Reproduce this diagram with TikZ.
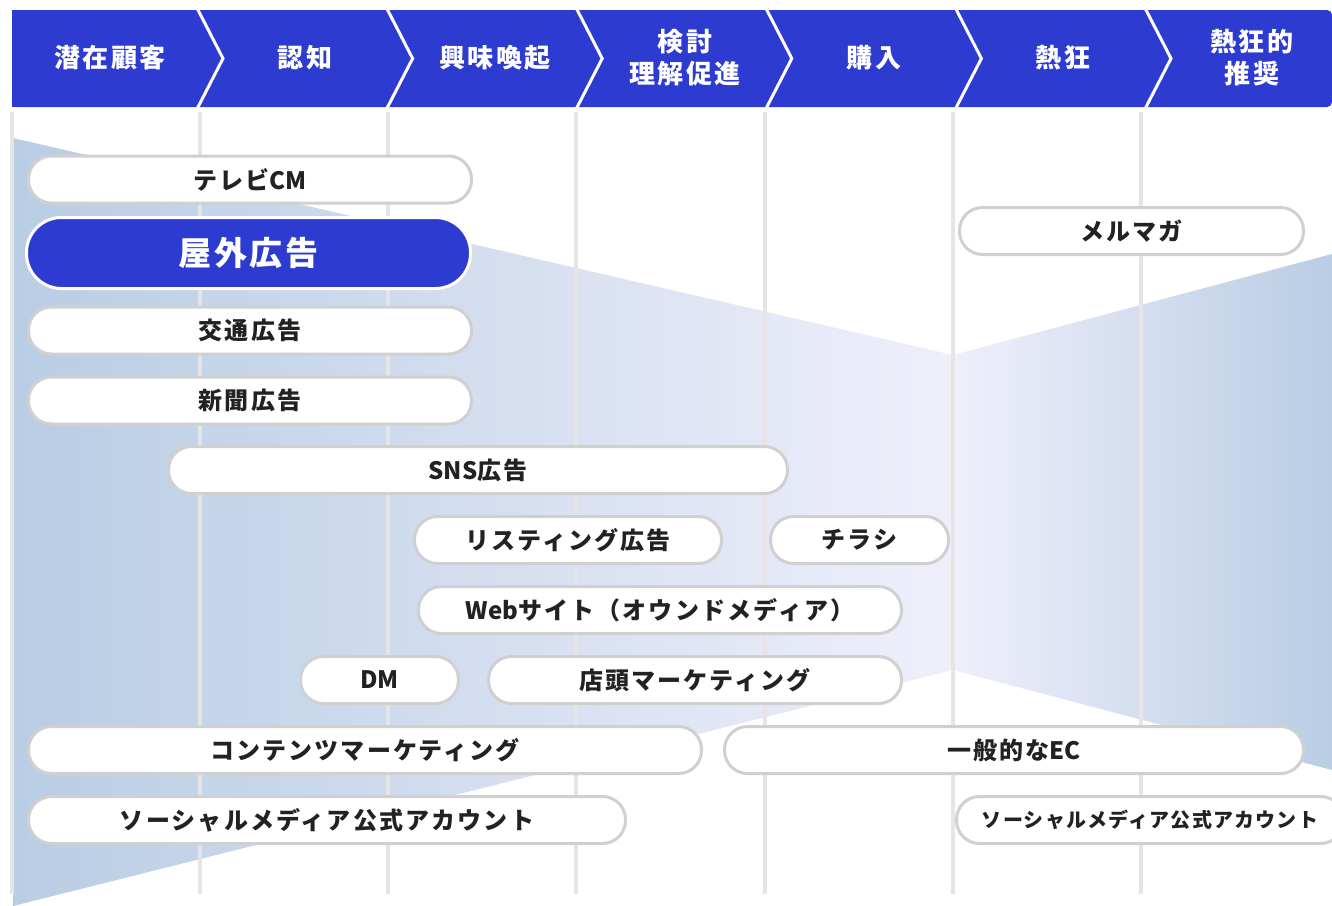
\documentclass[tikz,border=0pt]{standalone}
\usepackage{fontspec}
\setmainfont{Noto Sans CJK JP}
\definecolor{headblue}{RGB}{46,59,209}
\definecolor{pillgray}{RGB}{208,208,208}
\definecolor{inkgray}{RGB}{34,34,34}
\definecolor{gridgray}{RGB}{229,229,229}
\definecolor{funnelside}{RGB}{185,205,228}
\definecolor{funnelmid}{RGB}{239,239,251}
\tikzset{
  x=1pt, y=-1pt,
}
\newcommand{\lat}[1]{{\addfontfeature{LetterSpace=0}#1}}
\tikzstyle{gridline}=[gridgray,line width=4pt]
\tikzstyle{chevsep}=[white,line width=3pt]
\tikzstyle{stage}=[text=white,align=center,font=\bfseries\fontsize{26}{32}\selectfont\addfontfeature{LetterSpace=10}]
\tikzstyle{pill}=[draw=pillgray,fill=white,line width=3pt,rounded corners=23pt,minimum height=47pt,inner sep=0pt,text=inkgray,font=\bfseries\fontsize{24}{27}\selectfont\addfontfeature{LetterSpace=9}]
\tikzstyle{bigpill}=[draw=white,fill=headblue,line width=3pt,rounded corners=35pt,minimum height=71pt,inner sep=0pt,text=white,font=\bfseries\fontsize{33}{36}\selectfont\addfontfeature{LetterSpace=8}]

\begin{document}
\begin{tikzpicture}
    \useasboundingbox (0,0) rectangle (1332,905);
    \fill[white] (0,0) rectangle (1332,905);
    % funnel background
    \begin{scope}
      \clip (13,138) -- (953,355) -- (1332,254) -- (1332,770) -- (953,670) -- (13,906) -- cycle;
      \shade[left color=funnelside,right color=funnelmid] (13,130) rectangle (953,910);
      \shade[left color=funnelmid,right color=funnelside] (953,130) rectangle (1332,910);
    \end{scope}
    \foreach \x in {12,200,388,576,765,953,1141}
      \draw[gridline] (\x,112) -- (\x,894);
    % header
    \fill[headblue,rounded corners=5pt] (12,10) rectangle (1332,107);
    \fill[headblue] (12,10) rectangle (40,107);
    \foreach \s in {197,386.6,576.2,765.8,955.4,1145}
      \draw[chevsep] (\s,8) -- ({\s+26},58.5) -- (\s,109);
    \node[stage] (latent)   at (110,58)  {潜在顧客};
    \node[stage] (aware)    at (305,58)  {認知};
    \node[stage] (interest) at (495,58)  {興味喚起};
    \node[stage] (consider) at (685,58)  {検討\\理解促進};
    \node[stage] (purchase) at (874,58)  {購入};
    \node[stage] (fan)      at (1063,58) {熱狂};
    \node[stage] (advocate) at (1252,58) {熱狂的\\推奨};
    % media
    \node[pill,minimum width=443pt] (tvcm)      at (250,179.5) {テレビ\lat{CM}};
    \node[bigpill,minimum width=444pt] (ooh)    at (248.5,253) {屋外広告};
    \node[pill,minimum width=443pt] (transit)   at (250,330.5) {交通広告};
    \node[pill,minimum width=443pt] (newspaper) at (250,400.5) {新聞広告};
    \node[pill,minimum width=619pt] (snsad)     at (478,470)   {\lat{SNS}広告};
    \node[pill,minimum width=307pt] (listing)   at (568,540)   {リスティング広告};
    \node[pill,minimum width=178pt] (flyer)     at (859.5,540) {チラシ};
    \node[pill,minimum width=483pt] (website)   at (660,610)   {\lat{Web}サイト（オウンドメディア）};
    \node[pill,minimum width=158pt] (dm)        at (379.5,680) {\lat{DM}};
    \node[pill,minimum width=413pt] (instore)   at (695,680)   {店頭マーケティング};
    \node[pill,minimum width=673pt] (content)   at (365,750)   {コンテンツマーケティング};
    \node[pill,minimum width=579pt] (ec)        at (1014,750)  {一般的な\lat{EC}};
    \node[pill,minimum width=597pt] (socialL)   at (327,820)   {ソーシャルメディア公式アカウント};
    \node[pill,minimum width=387pt,font=\bfseries\fontsize{20}{24}\selectfont\addfontfeature{LetterSpace=6}] (socialR) at (1150,820) {ソーシャルメディア公式アカウント};
    \node[pill,minimum width=344pt] (mailmag)   at (1131.5,231) {メルマガ};
\end{tikzpicture}
\end{document}
